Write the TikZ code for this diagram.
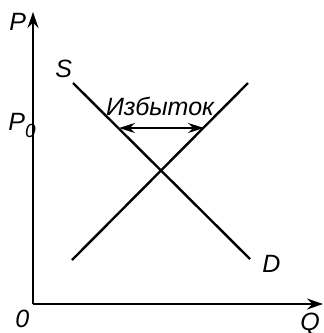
\documentclass[tikz,border=0pt]{standalone}
\usepackage{fontspec}
\setmainfont{Liberation Sans}
\usepackage{tikz}
\usetikzlibrary{positioning,arrows.meta,calc}

\begin{document}
\begin{tikzpicture}[
  x=0.5pt, y=-0.5pt,
  axis/.style={line width=0.8pt,-{Stealth[length=8pt,width=5.5pt]}},
  curve/.style={line width=1.2pt},
  gap/.style={line width=0.6pt,{Stealth[length=8pt,width=5pt]}-{Stealth[length=8pt,width=5pt]}},
  lbl/.style={font=\fontsize{12.5}{14}\selectfont\itshape,inner sep=0pt}
]
\useasboundingbox (0,0) rectangle (323,333);

% axes
\coordinate (origin) at (33,304);
\coordinate (ptop) at (33,12);
\coordinate (qend) at (323,304);
\draw[axis] (origin) -- (ptop);
\draw[axis] (origin) -- (qend);

% demand and supply
\coordinate (s1) at (73,83);
\coordinate (s2) at (250,259);
\coordinate (d1) at (72,260);
\coordinate (d2) at (248,83);
\draw[curve] (s1) -- (s2);
\draw[curve] (d1) -- (d2);

% surplus
\coordinate (e1) at (119,128);
\coordinate (e2) at (204,128);
\draw[gap] (e1) -- (e2);

\node[lbl,anchor=base west] (plab) at (9,30) {P};
\node[lbl,anchor=base west] (p0) at (8,130) {P\raisebox{-0.3em}{\fontsize{9.5}{10}\selectfont 0}};
\node[lbl,anchor=base west] (slab) at (55,77) {S};
\node[lbl,anchor=base] (surplus) at (160,115) {Избыток};
\node[lbl,anchor=base west] (dlab) at (262,272) {D};
\node[lbl,anchor=base west] (olab) at (15,327) {0};
\node[lbl,anchor=base west] (qlab) at (300,330) {Q};

\end{tikzpicture}
\end{document}
